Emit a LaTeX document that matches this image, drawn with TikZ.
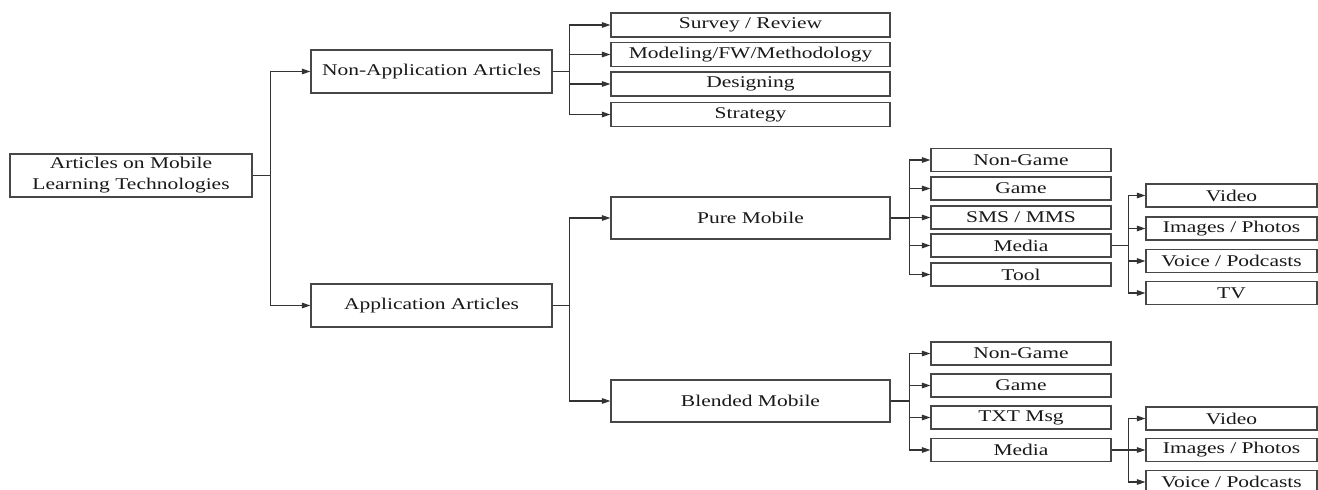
\documentclass[tikz,border=0pt]{standalone}
\usepackage{fontspec}
\setmainfont{Liberation Serif}[FakeStretch=1.31]
\usetikzlibrary{arrows.meta}

\tikzset{
  box/.style={draw=black!72, line width=1.1pt, inner sep=0pt, align=center,
              text=black!90, font=\fontsize{16.4}{21}\selectfont},
  bigbox/.style={box, minimum width=241pt, minimum height=43pt},
  midbox/.style={box, minimum width=279pt},
  subbox/.style={box, minimum width=180pt, minimum height=23pt},
  leafbox/.style={box, minimum width=171pt, minimum height=23pt},
  link/.style={draw=black!80, line width=1.1pt, -{Triangle[length=8.5pt,width=5.5pt]}}
}

\begin{document}
\begin{tikzpicture}[x=1pt, y=-1pt]
\clip (0,0) rectangle (1318,490);
\fill[white] (0,0) rectangle (1318,490);

% level 0 and 1
\node[bigbox, minimum width=242pt] (root) at (131,175.5) {Articles on Mobile\\Learning Technologies};
\node[bigbox] (nonapp) at (431.5,71.5) {Non-Application Articles};
\node[bigbox] (app) at (431.5,305.5) {Application Articles};

% non-application branches
\node[midbox, minimum height=24pt] (survey) at (750.5,25) {Survey / Review};
\node[midbox, minimum height=24pt] (model) at (750.5,54.5) {Modeling/FW/Methodology};
\node[midbox, minimum height=24pt] (design) at (750.5,84) {Designing};
\node[midbox, minimum height=24pt] (strat) at (750.5,114.5) {Strategy};

% application branches
\node[midbox, minimum height=42pt] (pure) at (750.5,218) {Pure Mobile};
\node[midbox, minimum height=42pt] (blend) at (750.5,401) {Blended Mobile};

% pure mobile
\node[subbox] (p1) at (1021,160) {Non-Game};
\node[subbox] (p2) at (1021,188.5) {Game};
\node[subbox] (p3) at (1021,217.5) {SMS / MMS};
\node[subbox] (p4) at (1021,245.5) {Media};
\node[subbox] (p5) at (1021,274.5) {Tool};

\node[leafbox] (pm1) at (1231.5,195.5) {Video};
\node[leafbox] (pm2) at (1231.5,228.5) {Images / Photos};
\node[leafbox] (pm3) at (1231.5,261) {Voice / Podcasts};
\node[leafbox] (pm4) at (1231.5,293) {TV};

% blended mobile
\node[subbox] (b1) at (1021,353.5) {Non-Game};
\node[subbox] (b2) at (1021,385.5) {Game};
\node[subbox] (b3) at (1021,417.5) {TXT Msg};
\node[subbox] (b4) at (1021,450) {Media};

\node[leafbox] (bm1) at (1231.5,418.5) {Video};
\node[leafbox] (bm2) at (1231.5,450) {Images / Photos};
\node[leafbox] (bm3) at (1231.5,482) {Voice / Podcasts};

% connectors
\foreach \c in {nonapp, app}
  \draw[link] (root.east) -- ++(18,0) |- (\c.west);
\foreach \c in {survey, model, design, strat}
  \draw[link] (nonapp.east) -- ++(17,0) |- (\c.west);
\foreach \c in {pure, blend}
  \draw[link] (app.east) -- ++(17,0) |- (\c.west);
\foreach \c in {p1, p2, p3, p4, p5}
  \draw[link] (pure.east) -- ++(19,0) |- (\c.west);
\foreach \c in {pm1, pm2, pm3, pm4}
  \draw[link] (p4.east) -- ++(17,0) |- (\c.west);
\foreach \c in {b1, b2, b3, b4}
  \draw[link] (blend.east) -- ++(19,0) |- (\c.west);
\foreach \c in {bm1, bm2, bm3}
  \draw[link] (b4.east) -- ++(17,0) |- (\c.west);
\end{tikzpicture}
\end{document}
